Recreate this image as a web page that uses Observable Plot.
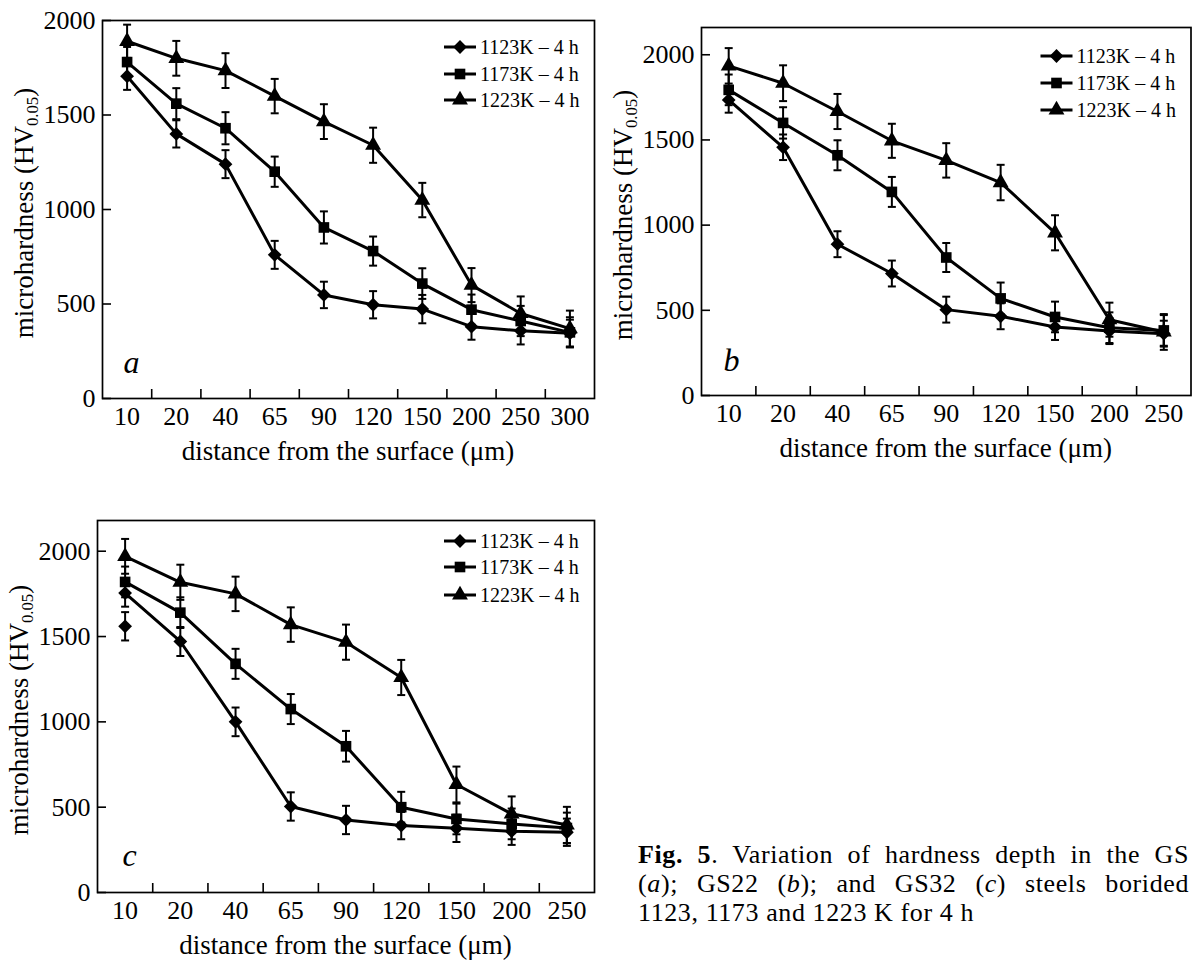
<!DOCTYPE html>
<html>
<head>
<meta charset="utf-8">
<script src="https://cdn.jsdelivr.net/npm/d3@7"></script>
<script src="https://cdn.jsdelivr.net/npm/@observablehq/plot@0.6"></script>
<style>
  html, body { margin: 0; padding: 0; background: #fff; }
  #fig { position: relative; width: 1192px; height: 961px; font-family: "Liberation Serif", serif; color: #000; overflow: hidden; }
  #fig svg text { font-family: "Liberation Serif", serif !important; }
  .panel { position: absolute; }
  .ytitle, .xtitle { position: absolute; white-space: nowrap; line-height: 1; }
  .ytitle { font-size: 27px; transform: translate(-50%, -50%) rotate(-90deg); }
  .xtitle { font-size: 27px; transform: translate(-50%, -50%); }
  .ytitle sub { font-size: 0.62em; vertical-align: -0.3em; line-height: 0; }
  .caption { position: absolute; left: 638px; top: 840px; width: 551px; font-size: 26px; line-height: 29px; letter-spacing: 0.6px; }
  .caption div { height: 29px; text-align: justify; text-align-last: justify; white-space: nowrap; }
  .caption div.last { text-align-last: left; }
</style>
</head>
<body>
<div id="fig"></div>
<script>
// ---------------- data ----------------
const distancesA = ["10", "20", "40", "65", "90", "120", "150", "200", "250", "300"];
const distancesBC = ["10", "20", "40", "65", "90", "120", "150", "200", "250"];
const seriesNames = ["1123K \u2013 4 h", "1173K \u2013 4 h", "1223K \u2013 4 h"];
const yTicks = [0, 500, 1000, 1500, 2000];

// panel a (GS)
const a1123 = [1705, 1400, 1240, 760, 548, 496, 473, 380, 358, 345];
const a1173 = [1780, 1560, 1430, 1200, 905, 780, 608, 470, 410, 350];
const a1223 = [1890, 1800, 1735, 1600, 1465, 1340, 1050, 600, 450, 370];
const aErr1123 = [72, 72, 74, 74, 70, 72, 75, 69, 72, 72];
const aErr1173 = [80, 82, 85, 80, 85, 77, 81, 80, 80, 80];
const aErr1223 = [88, 92, 92, 91, 92, 93, 91, 90, 90, 95];

// panel b (GS22)
const b1123 = [1735, 1457, 888, 716, 504, 465, 402, 378, 363];
const b1173 = [1794, 1600, 1410, 1195, 810, 570, 461, 398, 382];
const b1223 = [1935, 1833, 1667, 1495, 1380, 1250, 955, 445, 373];
const bErr1123 = [75, 75, 76, 76, 76, 76, 76, 76, 76];
const bErr1173 = [90, 92, 88, 88, 85, 93, 90, 90, 90];
const bErr1223 = [104, 105, 103, 100, 101, 104, 103, 100, 105];

// panel c (GS32)
const c1123 = [1755, 1471, 1000, 504, 425, 392, 376, 359, 353];
const c1173 = [1820, 1640, 1340, 1075, 857, 500, 431, 402, 378];
const c1223 = [1970, 1818, 1750, 1570, 1467, 1260, 633, 461, 396];
const cErr1123 = [80, 85, 84, 83, 83, 80, 80, 80, 80];
const cErr1173 = [90, 90, 88, 88, 90, 90, 90, 90, 90];
const cErr1223 = [102, 103, 101, 101, 103, 103, 105, 102, 106];
// extra stray 1123K point in panel c
const cStrayX = ["10"];
const cStrayV = [1560];
const cStrayE = [83];

// ---------------- drawing ----------------
const FONT = "Liberation Serif, serif";
const fig = document.getElementById("fig");

const capSymbol = {
  draw(ctx, size) {
    const w = Math.sqrt(size);
    ctx.moveTo(-w / 2, 0);
    ctx.lineTo(w / 2, 0);
  }
};
const markerSpecs = [
  {symbol: "diamond2", r: 6.2},
  {symbol: "square", r: 6},
  {symbol: "triangle", r: 5.9}
];

function makePanel(cfg) {
  const {cats, series, errs, yMax, left, top, width, height, m, letter, letterDx, letterDy, legendRows, stray} = cfg;
  const n = cats.length;
  const fw = width - m.l - m.r;
  const fh = height - m.t - m.b;
  const rows = [];
  series.forEach((vals, s) => vals.forEach((v, i) => rows.push({s, i, v, e: errs[s][i]})));
  const strayRows = stray ? stray.x.map((c, k) => ({s: 0, i: cats.indexOf(c), v: stray.v[k], e: stray.e[k]})) : [];
  const allBars = rows.concat(strayRows);

  const marks = [
    Plot.axisX(d3.range(n), {tickSize: 0, tickPadding: 8, tickFormat: (i) => cats[i], label: null, fontSize: 26, fontVariant: "normal"}),
    Plot.axisY(yTicks, {tickSize: 0, tickPadding: 7, tickFormat: (d) => String(d), label: null, fontSize: 26, fontVariant: "normal"}),
    // inward tick marks
    Plot.ruleX(d3.range(n - 1).map((i) => i + 0.5), {x: (d) => d, insetTop: fh - 9, stroke: "#000", strokeWidth: 1.6}),
    Plot.ruleY(yTicks, {y: (d) => d, insetRight: fw - 9, stroke: "#000", strokeWidth: 1.6}),
    // error bars
    Plot.ruleX(allBars, {x: "i", y1: (d) => d.v - d.e, y2: (d) => d.v + d.e, stroke: "#000", strokeWidth: 2}),
    Plot.dot(allBars, {x: "i", y: (d) => d.v - d.e, symbol: capSymbol, r: 4.5, fill: "none", stroke: "#000", strokeWidth: 2}),
    Plot.dot(allBars, {x: "i", y: (d) => d.v + d.e, symbol: capSymbol, r: 4.5, fill: "none", stroke: "#000", strokeWidth: 2}),
    // lines + markers
    Plot.line(rows, {x: "i", y: "v", z: "s", stroke: "#000", strokeWidth: 3, strokeLinejoin: "round"}),
    ...markerSpecs.map((ms, s) => Plot.dot(rows.filter((d) => d.s === s), {x: "i", y: "v", symbol: ms.symbol, r: ms.r, fill: "#000", stroke: "none"})),
    Plot.dot(strayRows, {x: "i", y: "v", symbol: markerSpecs[0].symbol, r: markerSpecs[0].r, fill: "#000", stroke: "none"}),
    Plot.text([letter], {frameAnchor: "bottom-left", dx: letterDx, dy: letterDy, textAnchor: "start", lineAnchor: "bottom", fontStyle: "italic", fontSize: 32}),
    Plot.frame({stroke: "#000", strokeWidth: 1.7})
  ];

  const svg = Plot.plot({
    width, height,
    marginLeft: m.l, marginTop: m.t, marginRight: m.r, marginBottom: m.b,
    style: {fontFamily: FONT, fontSize: "26px", color: "#000", background: "transparent", overflow: "visible"},
    x: {type: "linear", domain: [-0.5, n - 0.5], axis: null},
    y: {type: "linear", domain: [0, yMax], axis: null},
    marks
  });

  // legend drawn into the same svg
  const frameRight = width - m.r;
  const g = d3.select(svg).append("g").attr("class", "legend").attr("text-anchor", "start");
  seriesNames.forEach((name, s) => {
    const y = legendRows[s];
    const x0 = frameRight - 150, x1 = frameRight - 118;
    g.append("line").attr("x1", x0).attr("x2", x1).attr("y1", y).attr("y2", y)
      .attr("stroke", "#000").attr("stroke-width", 3);
    const symType = s === 0 ? d3.symbolDiamond2 : s === 1 ? d3.symbolSquare : d3.symbolTriangle;
    const r = markerSpecs[s].r;
    g.append("path").attr("d", d3.symbol(symType, Math.PI * r * r)())
      .attr("transform", `translate(${(x0 + x1) / 2},${y})`).attr("fill", "#000");
    g.append("text").attr("x", frameRight - 114).attr("y", y).attr("dy", "0.33em")
      .attr("text-anchor", "start").attr("font-size", 20).attr("fill", "#000").text(name);
  });

  const holder = document.createElement("div");
  holder.className = "panel";
  holder.style.left = left + "px";
  holder.style.top = top + "px";
  holder.appendChild(svg);
  fig.appendChild(holder);

  // axis titles
  const yt = document.createElement("div");
  yt.className = "ytitle";
  yt.innerHTML = "microhardness (HV<sub>0.05</sub>)";
  yt.style.left = (left + m.l - 78) + "px";
  yt.style.top = (top + m.t + fh / 2 + 4) + "px";
  fig.appendChild(yt);

  const xt = document.createElement("div");
  xt.className = "xtitle";
  xt.textContent = "distance from the surface (\u03bcm)";
  xt.style.left = (left + m.l + fw / 2) + "px";
  xt.style.top = (top + height - m.b + 53) + "px";
  fig.appendChild(xt);
}

makePanel({
  cats: distancesA, series: [a1123, a1173, a1223], errs: [aErr1123, aErr1173, aErr1223], yMax: 2000,
  left: 0, top: 0, width: 600, height: 470, m: {l: 102, t: 20, r: 6, b: 72},
  letter: "a", letterDx: 21, letterDy: -26, legendRows: [47, 74, 100]
});
makePanel({
  cats: distancesBC, series: [b1123, b1173, b1223], errs: [bErr1123, bErr1173, bErr1223], yMax: 2160,
  left: 600, top: 0, width: 592, height: 470, m: {l: 101, t: 27, r: 1.5, b: 75},
  letter: "b", letterDx: 22, letterDy: -25, legendRows: [56, 83, 110]
});
makePanel({
  cats: distancesBC, series: [c1123, c1173, c1223], errs: [cErr1123, cErr1173, cErr1223], yMax: 2180,
  left: 0, top: 490, width: 600, height: 471, m: {l: 97, t: 30, r: 6, b: 69},
  letter: "c", letterDx: 25, letterDy: -27, legendRows: [51, 77, 105],
  stray: {x: cStrayX, v: cStrayV, e: cStrayE}
});

// caption
const cap = document.createElement("div");
cap.className = "caption";
cap.innerHTML =
  '<div><b>Fig. 5</b>. Variation of hardness depth in the GS</div>' +
  '<div>(<i>a</i>); GS22 (<i>b</i>); and GS32 (<i>c</i>) steels borided</div>' +
  '<div class="last">1123, 1173 and 1223 K for 4 h</div>';
fig.appendChild(cap);
</script>
</body>
</html>
